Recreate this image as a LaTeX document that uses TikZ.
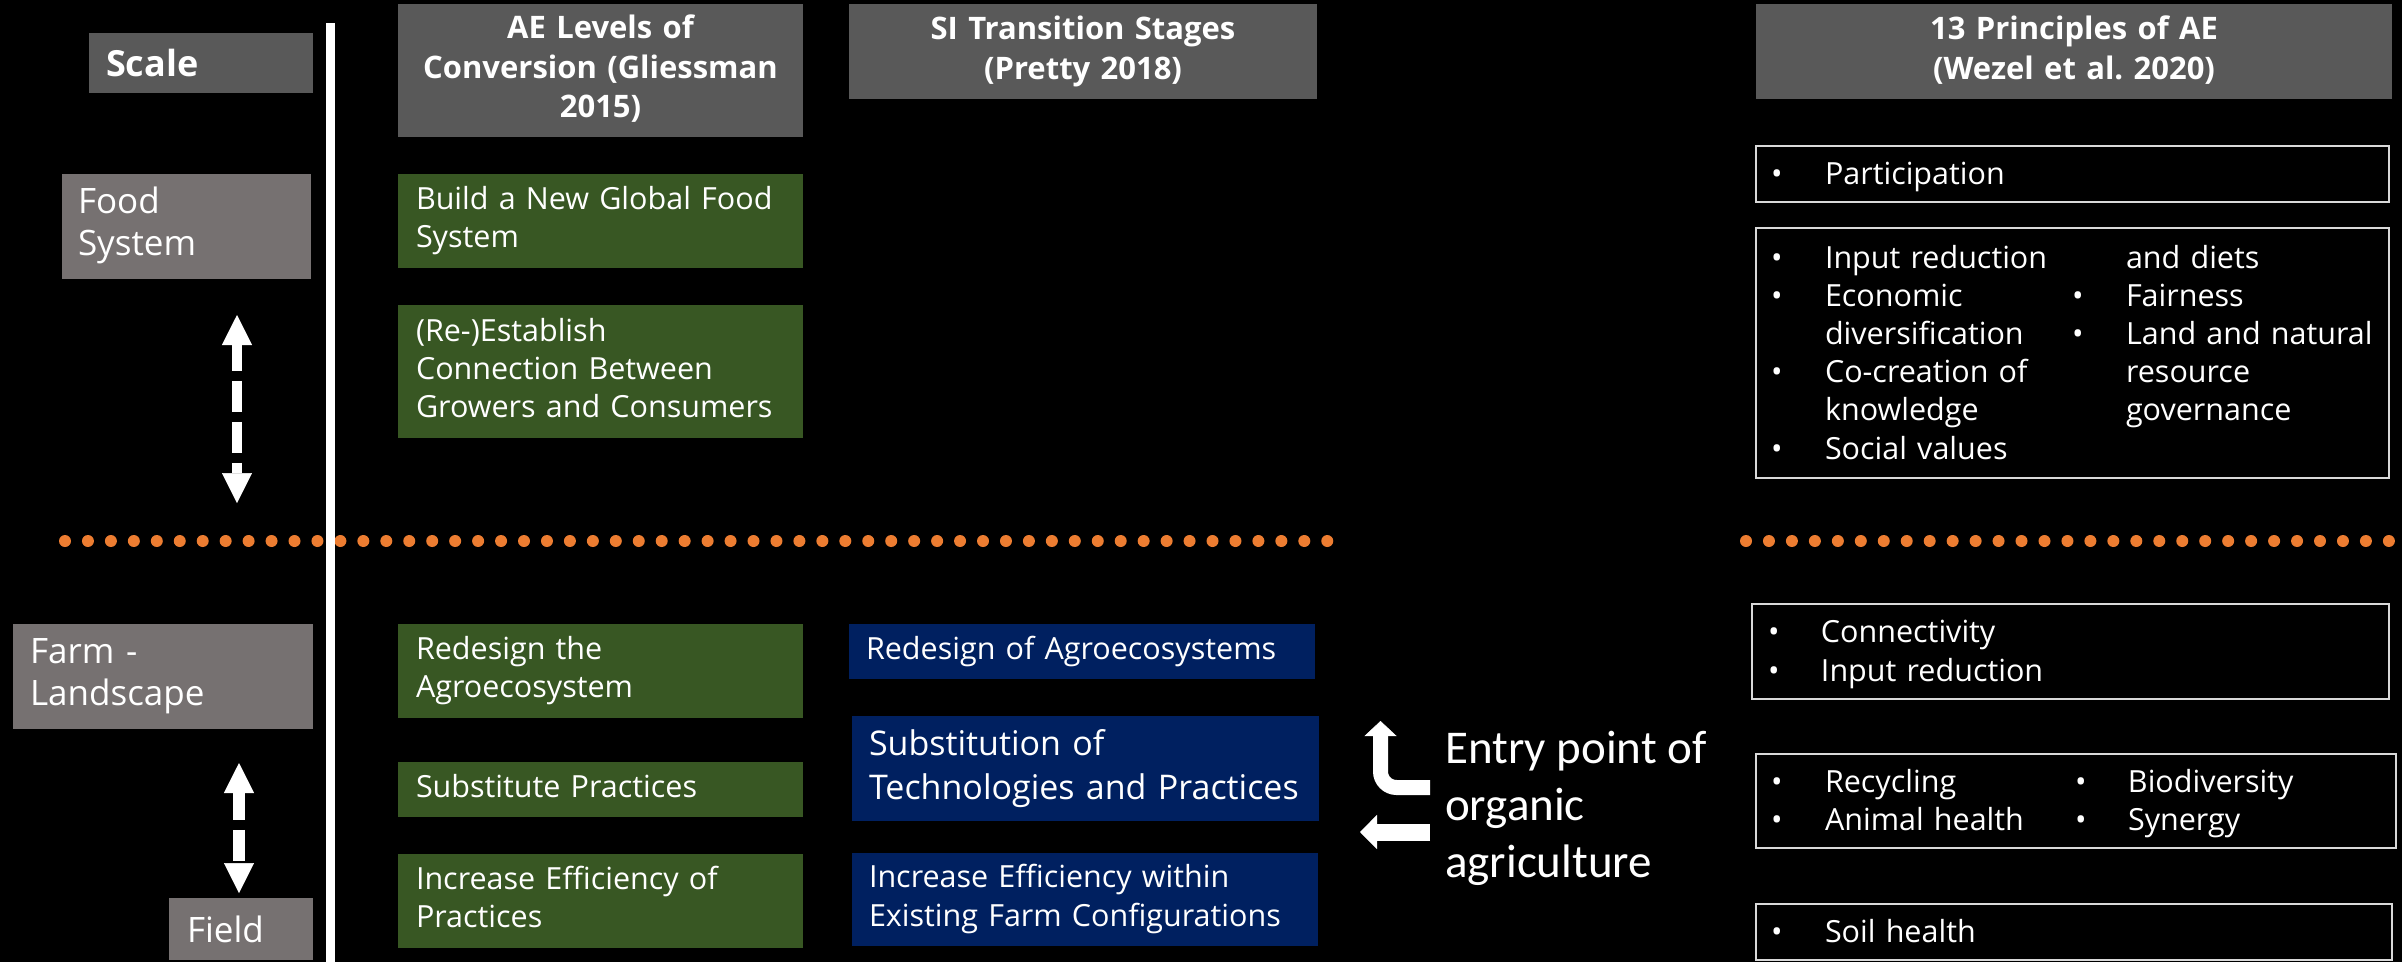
\documentclass[tikz,border=0pt]{standalone}
\usepackage{fontspec}
\setmainfont{Open Sans}
\newfontfamily\calib{Carlito}
\usetikzlibrary{arrows.meta}
\definecolor{hdr}{HTML}{595959}
\definecolor{lbl}{HTML}{767171}
\definecolor{grn}{HTML}{385723}
\definecolor{blu}{HTML}{002060}
\definecolor{org}{HTML}{ED7D31}
\definecolor{brd}{HTML}{D9D9D9}
\newcommand{\mytl}[1]{\begin{tabular}{@{}l@{}}\rule{0pt}{0.85\baselineskip}#1\end{tabular}}
\newcommand{\mytc}[1]{\begin{tabular}{@{}c@{}}\rule{0pt}{0.85\baselineskip}#1\end{tabular}}
\newcommand{\blt}{\textbullet}
\newcommand{\fst}{\rule{0pt}{0.85\baselineskip}}
\tikzset{
  basebox/.style={inner sep=0pt, outer sep=0pt, text=white, anchor=north west},
  hdrbox/.style={basebox, fill=hdr, font=\bfseries\fontsize{31}{39.5}\selectfont, align=center},
  lblbox/.style={basebox, fill=lbl, font=\fontsize{35}{42}\selectfont, align=left},
  grnbox/.style={basebox, fill=grn, font=\fontsize{30.5}{38}\selectfont, align=left, minimum width=405, text width=369},
  blubox/.style={basebox, fill=blu, font=\fontsize{30.5}{38.5}\selectfont, align=left},
  prbox/.style={basebox, draw=brd, line width=2, fill=black, font=\fontsize{30.5}{38.2}\selectfont, align=left},
  dot/.style={fill=org},
  vline/.style={draw=white, line width=9},
  dasharrow/.style={draw=white, dash pattern=on 31pt off 10pt, {Triangle[width=30pt,length=30pt,line width=0.5pt]}-{Triangle[width=30pt,length=30pt,line width=0.5pt]}},
  entryarrow/.style={draw=white}
}
\begin{document}
\begin{tikzpicture}[x=1pt,y=-1pt]
\fill[black] (0,0) rectangle (2402,962);
\useasboundingbox (0,0) rectangle (2402,962);

% orange dotted separators
\foreach \i in {0,...,55}{\fill[dot] ({65+\i*22.95},541) circle (6);}
\foreach \i in {0,...,28}{\fill[dot] ({1746+\i*22.96},541) circle (6);}

% vertical white line
\coordinate (vtop) at (330,23);
\coordinate (vbot) at (330,962);
\draw[vline] (vtop) -- (vbot);

% headers
\node[hdrbox, minimum width=224, minimum height=60, text width=190, align=left, font=\bfseries\fontsize{36}{44}\selectfont] (scale) at (89,33) {Scale};
\node[hdrbox, minimum width=405, minimum height=133, text width=405] (hAE) at (398,4) {\mytc{AE Levels of\\Conversion (Gliessman\\2015)}};
\node[hdrbox, minimum width=468, minimum height=95, text width=468] (hSI) at (849,4) {\mytc{SI Transition Stages\\(Pretty 2018)}};
\node[hdrbox, minimum width=636, minimum height=95, text width=636] (hP) at (1756,4) {\mytc{13 Principles of AE\\(Wezel et al.\ 2020)}};

% scale labels
\node[lblbox, minimum width=249, minimum height=105, text width=217] (food) at (62,174) {\mytl{Food\\System}};
\node[lblbox, minimum width=300, minimum height=105, text width=266] (farm) at (13,624) {\mytl{Farm -\\Landscape}};
\node[lblbox, minimum width=144, minimum height=62, text width=108] (field) at (169,898) {Field};

% scale arrows
\coordinate (a1t) at (237,315);
\coordinate (a1b) at (237,503);
\draw[dasharrow, line width=10, dash phase=5pt] (a1t) -- (a1b);
\coordinate (a2t) at (239,763);
\coordinate (a2b) at (239,893);
\draw[dasharrow, line width=12, dash phase=4pt] (a2t) -- (a2b);

% AE levels (green)
\node[grnbox, minimum height=94] (g1) at (398,174) {\mytl{Build a New Global Food\\System}};
\node[grnbox, minimum height=133] (g2) at (398,305) {\mytl{(Re-)Establish\\Connection Between\\Growers and Consumers}};
\node[grnbox, minimum height=94] (g3) at (398,624) {\mytl{Redesign the\\Agroecosystem}};
\node[grnbox, minimum height=55] (g4) at (398,762) {\mytl{Substitute Practices}};
\node[grnbox, minimum height=94] (g5) at (398,854) {\mytl{Increase Efficiency of\\Practices}};

% SI stages (blue)
\node[blubox, minimum width=466, minimum height=55, text width=432] (s1) at (849,624) {\mytl{Redesign of Agroecosystems}};
\node[blubox, minimum width=467, minimum height=105, text width=433, font=\fontsize{34}{44}\selectfont] (s2) at (852,716) {\mytl{Substitution of\\Technologies and Practices}};
\node[blubox, minimum width=466, minimum height=93, text width=432] (s3) at (852,853) {\mytl{Increase Efficiency within\\Existing Farm Configurations}};

% entry point arrows and text
\coordinate (e1s) at (1430,787.5);
\coordinate (e1t) at (1380.5,721);
\draw[entryarrow, line width=15, rounded corners=16, -{Triangle[width=32pt,length=15pt,line width=0.5pt]}] (e1s) -| (e1t);
\coordinate (e2s) at (1430,832);
\coordinate (e2t) at (1360,832);
\draw[entryarrow, line width=17, -{Triangle[width=34pt,length=17pt,line width=0.5pt]}] (e2s) -- (e2t);
\node[anchor=base west, inner sep=0pt, text=white, font=\calib\fontsize{47}{57}\selectfont] (entry) at (1445,763)
  {\begin{tabular}[t]{@{}l@{}}Entry point of\\organic\\agriculture\end{tabular}};

% principles boxes
\node[prbox, minimum width=633, minimum height=56, text width=603] (p1) at (1756,146)
  {\begin{tabular}{@{}p{54pt}@{}l@{}}\fst\blt & Participation\end{tabular}};
\node[prbox, minimum width=633, minimum height=250, text width=603] (p2) at (1756,228)
  {\begin{tabular}{@{}p{54pt}@{}p{247pt}@{}p{54pt}@{}l@{}}
   \fst\blt & Input reduction & & and diets\\
   \blt & Economic & \blt & Fairness\\
        & diversification & \blt & Land and natural\\
   \blt & Co-creation of & & resource\\
        & knowledge & & governance\\
   \blt & Social values & &
   \end{tabular}};
\node[prbox, minimum width=637, minimum height=95, text width=605] (p3) at (1752,604)
  {\begin{tabular}{@{}p{53pt}@{}l@{}}\fst\blt & Connectivity\\ \blt & Input reduction\end{tabular}};
\node[prbox, minimum width=640, minimum height=94, text width=610] (p4) at (1756,754)
  {\begin{tabular}{@{}p{54pt}@{}p{250pt}@{}p{53pt}@{}l@{}}
   \fst\blt & Recycling & \blt & Biodiversity\\
   \blt & Animal health & \blt & Synergy
   \end{tabular}};
\node[prbox, minimum width=636, minimum height=56, text width=606] (p5) at (1756,904)
  {\begin{tabular}{@{}p{54pt}@{}l@{}}\fst\blt & Soil health\end{tabular}};
\end{tikzpicture}
\end{document}
